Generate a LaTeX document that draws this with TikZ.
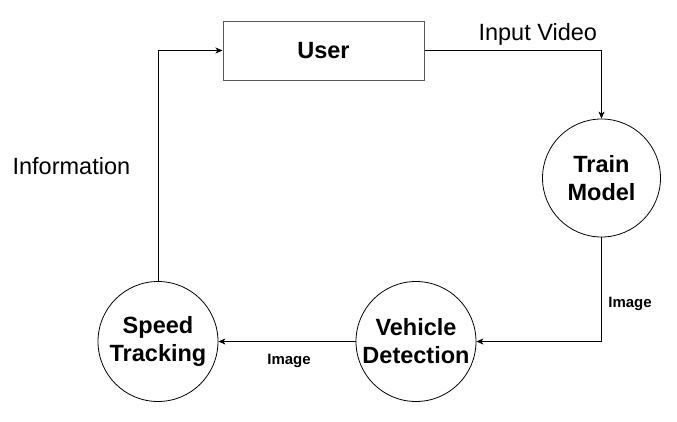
\documentclass[tikz,border=0pt]{standalone}
\usepackage{fontspec}
\setmainfont{Liberation Sans}
\usetikzlibrary{positioning,arrows.meta}

\begin{document}
\begin{tikzpicture}[x=1pt, y=-1pt,
    procbox/.style={draw=black!65, line width=1pt, minimum width=201pt, minimum height=59pt,
        font=\fontsize{23.5}{28}\selectfont\bfseries},
    stagecirc/.style={draw, circle, line width=0.8pt, minimum size=120pt, inner sep=0pt,
        align=center, font=\fontsize{23.5}{28}\selectfont\bfseries},
    flow/.style={draw, line width=1pt, -{Stealth[length=7pt, width=6pt, inset=2pt]}},
    bigtxt/.style={font=\fontsize{23.5}{28}\selectfont},
    smalltxt/.style={font=\fontsize{15}{18}\selectfont\bfseries}]
\useasboundingbox (0,0) rectangle (677,421);

\node[procbox] (user) at (323.5,50.5) {User};
\node[stagecirc, minimum size=118pt] (train) at (601.5,178) {Train\\Model};
\node[stagecirc] (vehicle) at (416,341.5) {Vehicle\\Detection};
\node[stagecirc] (speed) at (158,341.5) {Speed\\Tracking};

\draw[flow] (user.east) -| (train.north)
    node[pos=0.32, above=1pt, bigtxt] (lblvideo) {Input Video};
\draw[flow] (train.south) |- (vehicle.east)
    node[pos=0.32, right=3pt, smalltxt] (lblimgone) {Image};
\draw[flow] (vehicle.west) -- (speed.east)
    node[pos=0.485, below=9pt, smalltxt] (lblimgtwo) {Image};
\draw[flow] (speed.north) |- (user.west)
    node[pos=0.25, left=24pt, bigtxt] (lblinfo) {Information};
\end{tikzpicture}
\end{document}
